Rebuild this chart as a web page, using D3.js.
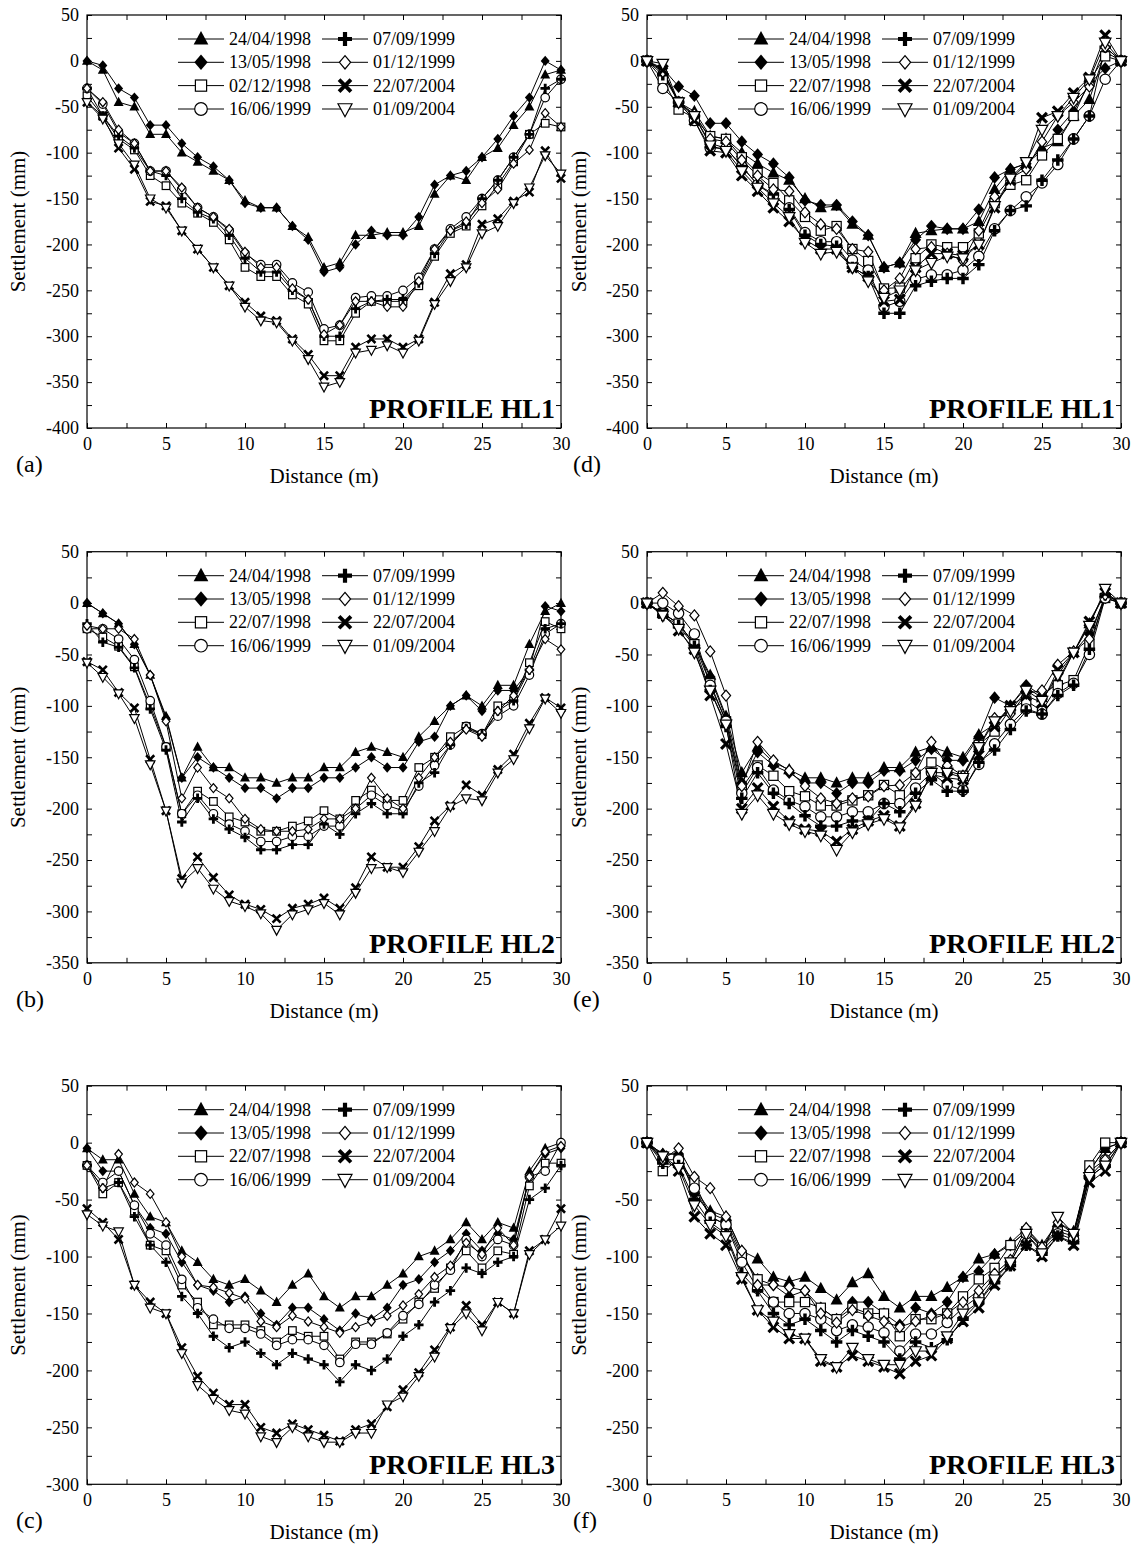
<!DOCTYPE html>
<html><head><meta charset="utf-8">
<script src="https://cdn.jsdelivr.net/npm/d3@7"></script>
<style>body{margin:0;background:#fff}svg text{font-family:"Liberation Serif","Times New Roman",serif;fill:#000}</style>
</head><body><svg id="c" width="1142" height="1559"></svg>
<script>
const distance=[0,1,2,3,4,5,6,7,8,9,10,11,12,13,14,15,16,17,18,19,20,21,22,23,24,25,26,27,28,29,30];
const xTickLabels=[0,5,10,15,20,25,30];
const xTickAll=[0,2.5,5,7.5,10,12.5,15,17.5,20,22.5,25,27.5,30];
const legendA=["24/04/1998","13/05/1998","02/12/1998","16/06/1999","07/09/1999","01/12/1999","22/07/2004","01/09/2004"];
const legendOther=["24/04/1998","13/05/1998","22/07/1998","16/06/1999","07/09/1999","01/12/1999","22/07/2004","01/09/2004"];
const markerTypes=["triUp","diamond","square","circle","plus","diamondOpen","cross","triDown"];
const yTicksHL1=[50,0,-50,-100,-150,-200,-250,-300,-350,-400];
const yTicksHL2=[50,0,-50,-100,-150,-200,-250,-300,-350];
const yTicksHL3=[50,0,-50,-100,-150,-200,-250,-300];

// Profile HL1 (a)
const profileA=[
[0,-10,-45,-50,-80,-80,-100,-110,-120,-130,-152,-160,-160,-180,-192,-225,-220,-190,-190,-187,-187,-180,-145,-125,-130,-105,-95,-70,-50,-15,-10],
[0,-5,-30,-40,-70,-70,-90,-105,-115,-130,-155,-160,-160,-180,-195,-230,-225,-200,-185,-190,-190,-170,-135,-125,-120,-105,-85,-60,-40,0,-10],
[-38,-60,-85,-97,-125,-136,-155,-166,-176,-195,-225,-235,-235,-255,-265,-305,-305,-275,-262,-262,-262,-245,-213,-188,-180,-158,-135,-110,-80,-68,-72],
[-30,-47,-78,-90,-120,-120,-140,-160,-170,-185,-210,-222,-222,-242,-252,-292,-288,-258,-256,-256,-250,-236,-205,-183,-170,-150,-130,-105,-80,-40,-20],
[-30,-60,-82,-95,-120,-125,-150,-165,-172,-190,-215,-230,-230,-250,-260,-300,-300,-270,-262,-260,-260,-242,-210,-185,-178,-150,-130,-105,-80,-30,-20],
[-30,-45,-75,-90,-120,-120,-138,-160,-170,-183,-208,-225,-225,-248,-260,-298,-288,-262,-262,-268,-268,-240,-205,-185,-175,-155,-140,-112,-97,-57,-72],
[-45,-60,-95,-118,-153,-158,-185,-205,-225,-245,-263,-278,-283,-303,-320,-343,-343,-312,-303,-303,-312,-303,-263,-232,-222,-178,-172,-153,-143,-98,-128],
[-45,-63,-90,-113,-150,-160,-185,-205,-225,-245,-268,-283,-285,-305,-325,-355,-350,-318,-315,-310,-318,-305,-265,-240,-225,-188,-180,-155,-138,-103,-123]
];
// Profile HL1 (d)
const profileD=[
[0,-10,-45,-55,-82,-85,-100,-112,-122,-130,-150,-160,-158,-178,-190,-225,-220,-188,-185,-183,-183,-175,-140,-118,-112,-95,-88,-60,-42,10,0],
[0,-8,-28,-38,-68,-68,-88,-102,-112,-127,-152,-157,-157,-175,-190,-225,-220,-195,-180,-183,-183,-162,-127,-118,-112,-98,-75,-55,-25,-8,0],
[0,-20,-53,-62,-82,-85,-105,-122,-133,-152,-170,-185,-180,-205,-218,-248,-247,-215,-200,-203,-203,-188,-155,-135,-130,-103,-85,-60,-22,5,0],
[0,-30,-45,-65,-95,-95,-115,-135,-147,-160,-187,-197,-197,-217,-228,-268,-262,-238,-233,-233,-228,-213,-183,-163,-148,-133,-113,-85,-60,-20,0],
[0,-15,-45,-60,-90,-95,-115,-135,-145,-162,-190,-200,-202,-225,-235,-275,-275,-245,-240,-237,-237,-222,-185,-163,-158,-130,-108,-85,-60,15,0],
[0,-12,-45,-58,-85,-88,-108,-125,-140,-142,-165,-178,-183,-205,-208,-250,-237,-205,-203,-210,-218,-185,-148,-128,-118,-88,-60,-45,-28,15,0],
[0,-10,-45,-65,-98,-100,-125,-142,-160,-175,-195,-205,-205,-225,-235,-262,-260,-225,-210,-210,-212,-200,-160,-130,-112,-62,-55,-35,-18,28,0],
[0,-3,-45,-60,-92,-98,-120,-138,-155,-170,-198,-210,-208,-225,-240,-258,-250,-228,-220,-213,-215,-200,-158,-128,-110,-75,-60,-40,-20,20,0]
];
// Profile HL2 (b)
const profileB=[
[0,-10,-20,-40,-70,-110,-170,-140,-160,-160,-170,-170,-175,-170,-170,-160,-160,-145,-140,-145,-150,-130,-115,-100,-90,-100,-80,-80,-40,-8,0],
[0,-10,-20,-40,-70,-112,-170,-150,-160,-170,-180,-180,-190,-180,-180,-170,-170,-160,-150,-160,-160,-135,-130,-100,-90,-105,-85,-85,-65,-3,-8],
[-25,-33,-42,-62,-100,-140,-205,-183,-193,-208,-213,-222,-222,-217,-212,-202,-210,-192,-182,-192,-192,-160,-150,-130,-120,-128,-100,-95,-58,-18,-25],
[-25,-25,-35,-55,-95,-140,-205,-187,-205,-215,-222,-232,-232,-227,-227,-217,-217,-200,-187,-197,-202,-178,-158,-138,-120,-127,-110,-100,-70,-30,-20],
[-20,-38,-43,-63,-103,-143,-213,-190,-210,-220,-228,-240,-240,-235,-235,-215,-225,-205,-195,-205,-205,-175,-165,-138,-122,-128,-105,-95,-65,-25,-20],
[-22,-25,-25,-35,-70,-115,-190,-160,-180,-190,-210,-220,-222,-222,-220,-210,-210,-200,-170,-190,-200,-170,-150,-135,-123,-130,-105,-90,-65,-35,-45],
[-57,-65,-87,-102,-152,-202,-268,-247,-267,-284,-293,-298,-307,-297,-293,-287,-297,-277,-247,-257,-257,-237,-212,-197,-177,-187,-162,-147,-117,-92,-102],
[-58,-72,-88,-112,-157,-202,-272,-258,-278,-290,-295,-302,-318,-303,-298,-292,-303,-282,-258,-257,-262,-242,-222,-198,-190,-192,-165,-152,-122,-93,-107]
];
// Profile HL2 (e)
const profileE=[
[0,-10,-20,-40,-70,-110,-165,-140,-155,-162,-170,-170,-175,-170,-170,-160,-160,-145,-140,-145,-150,-128,-118,-100,-82,-92,-75,-48,-20,10,0],
[0,-10,-20,-40,-72,-112,-175,-145,-158,-165,-175,-175,-185,-175,-175,-163,-163,-153,-142,-153,-153,-130,-92,-100,-80,-90,-78,-48,-30,5,0],
[0,-10,-20,-40,-78,-115,-180,-158,-168,-183,-188,-197,-197,-192,-187,-177,-187,-167,-155,-163,-168,-138,-125,-103,-95,-105,-80,-75,-40,5,0],
[0,0,-10,-30,-80,-115,-185,-160,-182,-192,-198,-208,-208,-203,-203,-195,-195,-180,-165,-177,-182,-157,-137,-118,-103,-108,-88,-78,-50,5,0],
[0,-12,-22,-42,-85,-120,-190,-165,-185,-195,-207,-217,-217,-212,-212,-195,-203,-185,-172,-183,-183,-155,-143,-123,-105,-108,-90,-80,-45,8,0],
[0,10,-3,-12,-47,-90,-178,-135,-153,-163,-178,-190,-195,-190,-188,-178,-177,-165,-135,-158,-168,-140,-112,-108,-88,-85,-60,-47,-35,8,0],
[0,-10,-27,-45,-90,-137,-200,-180,-198,-212,-220,-222,-232,-220,-212,-207,-217,-195,-167,-170,-172,-148,-120,-100,-90,-97,-65,-48,-18,10,0],
[0,-12,-25,-48,-85,-118,-205,-187,-205,-215,-222,-226,-240,-223,-215,-210,-218,-197,-165,-165,-170,-140,-115,-105,-85,-95,-70,-48,-22,14,0]
];
// Profile HL3 (c)
const profileC=[
[-5,-15,-15,-45,-65,-70,-95,-105,-120,-125,-120,-130,-140,-125,-115,-135,-145,-135,-135,-125,-115,-100,-95,-85,-70,-85,-70,-75,-25,-5,0],
[-5,-25,-25,-55,-75,-80,-105,-125,-130,-140,-135,-150,-160,-145,-145,-155,-165,-150,-155,-145,-125,-120,-105,-95,-80,-95,-80,-85,-30,-10,-5],
[-20,-45,-35,-60,-90,-95,-125,-140,-160,-160,-160,-165,-175,-165,-170,-170,-190,-175,-175,-168,-155,-140,-128,-110,-95,-110,-95,-98,-38,-18,-18],
[-20,-35,-25,-55,-80,-90,-120,-145,-155,-163,-163,-168,-178,-173,-173,-178,-193,-177,-177,-167,-152,-142,-125,-112,-85,-100,-85,-90,-30,-25,0],
[-20,-40,-35,-65,-90,-105,-135,-150,-170,-180,-175,-185,-195,-185,-190,-195,-210,-195,-200,-190,-170,-160,-140,-130,-110,-115,-105,-100,-50,-40,-20],
[-20,-40,-10,-35,-45,-70,-100,-125,-127,-132,-137,-157,-162,-152,-157,-162,-167,-162,-157,-152,-143,-133,-118,-108,-88,-98,-75,-90,-30,-8,-3],
[-58,-70,-85,-125,-140,-150,-180,-205,-220,-230,-230,-250,-255,-247,-252,-257,-262,-252,-247,-232,-217,-202,-182,-162,-143,-160,-140,-150,-95,-85,-58],
[-63,-73,-78,-125,-145,-150,-185,-213,-225,-235,-238,-258,-263,-250,-258,-263,-263,-255,-255,-230,-223,-205,-188,-163,-150,-165,-140,-150,-98,-85,-73]
];
// Profile HL3 (f)
const profileF=[
[0,-10,-10,-40,-60,-65,-95,-102,-118,-122,-118,-128,-138,-123,-115,-135,-145,-135,-135,-127,-118,-102,-98,-88,-75,-90,-70,-78,-25,-5,0],
[0,-10,-10,-45,-62,-68,-98,-120,-125,-135,-130,-145,-155,-140,-140,-150,-160,-145,-150,-140,-118,-113,-98,-90,-78,-92,-75,-80,-25,-5,0],
[0,-25,-15,-35,-65,-72,-100,-120,-140,-140,-140,-145,-155,-145,-150,-150,-170,-155,-155,-150,-135,-120,-110,-90,-78,-92,-78,-82,-20,0,0],
[0,-15,-15,-40,-65,-72,-105,-128,-140,-150,-150,-155,-165,-160,-162,-167,-183,-168,-168,-158,-145,-135,-118,-105,-80,-95,-80,-85,-30,-15,0],
[0,-18,-20,-50,-70,-80,-115,-130,-150,-160,-155,-165,-175,-165,-170,-175,-190,-175,-180,-173,-155,-140,-123,-108,-90,-98,-82,-88,-30,-20,0],
[0,-15,-5,-30,-40,-65,-95,-125,-125,-127,-130,-150,-158,-147,-152,-157,-162,-157,-152,-150,-140,-130,-115,-103,-75,-92,-70,-80,-25,-15,0],
[0,-12,-25,-65,-80,-90,-120,-147,-162,-172,-172,-192,-197,-187,-192,-197,-203,-192,-187,-172,-157,-145,-125,-108,-90,-100,-82,-90,-35,-25,0],
[0,-12,-22,-55,-72,-82,-118,-147,-157,-168,-172,-190,-197,-180,-190,-195,-195,-183,-183,-170,-150,-140,-120,-105,-80,-97,-65,-80,-30,-20,0]
];

const panels=[
 {data:profileA,names:legendA,title:"PROFILE HL1",letter:"(a)",yTicks:yTicksHL1,left:87,right:561,top:15,bottom:428,ms:9.5,yl:18,lx:16},
 {data:profileD,names:legendOther,title:"PROFILE HL1",letter:"(d)",yTicks:yTicksHL1,left:647,right:1121,top:15,bottom:428,ms:11.5,yl:579,lx:573},
 {data:profileB,names:legendOther,title:"PROFILE HL2",letter:"(b)",yTicks:yTicksHL2,left:87,right:561,top:551.7,bottom:962.8,ms:9.5,yl:18,lx:16},
 {data:profileE,names:legendOther,title:"PROFILE HL2",letter:"(e)",yTicks:yTicksHL2,left:647,right:1121,top:551.7,bottom:962.8,ms:11.5,yl:579,lx:573},
 {data:profileC,names:legendOther,title:"PROFILE HL3",letter:"(c)",yTicks:yTicksHL3,left:87,right:561,top:1085.7,bottom:1484.3,ms:9.5,yl:18,lx:16},
 {data:profileF,names:legendOther,title:"PROFILE HL3",letter:"(f)",yTicks:yTicksHL3,left:647,right:1121,top:1085.7,bottom:1484.3,ms:11.5,yl:579,lx:573}
];

const svg=d3.select("#c");

function drawMarker(g,type,x,y,s){
  const h=s/2;
  if(type==="triUp"){
    g.append("path").attr("d",`M${x},${y-h*1.15}L${x+h*1.05},${y+h*0.8}L${x-h*1.05},${y+h*0.8}Z`).attr("fill","#000");
  }else if(type==="triDown"){
    g.append("path").attr("d",`M${x},${y+h*1.1}L${x+h*1.0},${y-h*0.75}L${x-h*1.0},${y-h*0.75}Z`).attr("fill","#fff").attr("stroke","#000").attr("stroke-width",1.2);
  }else if(type==="diamond"){
    g.append("path").attr("d",`M${x},${y-h*1.1}L${x+h*0.95},${y}L${x},${y+h*1.1}L${x-h*0.95},${y}Z`).attr("fill","#000");
  }else if(type==="diamondOpen"){
    g.append("path").attr("d",`M${x},${y-h*0.95}L${x+h*0.8},${y}L${x},${y+h*0.95}L${x-h*0.8},${y}Z`).attr("fill","#fff").attr("stroke","#000").attr("stroke-width",1.2);
  }else if(type==="square"){
    g.append("rect").attr("x",x-h*0.8).attr("y",y-h*0.8).attr("width",h*1.6).attr("height",h*1.6).attr("fill","#fff").attr("stroke","#000").attr("stroke-width",1.2);
  }else if(type==="circle"){
    g.append("circle").attr("cx",x).attr("cy",y).attr("r",h*0.9).attr("fill","#fff").attr("stroke","#000").attr("stroke-width",1.2);
  }else if(type==="plus"){
    const a=h*1.0,t=h*0.3;
    g.append("path").attr("d",`M${x-t},${y-a}H${x+t}V${y-t}H${x+a}V${y+t}H${x+t}V${y+a}H${x-t}V${y+t}H${x-a}V${y-t}H${x-t}Z`).attr("fill","#000");
  }else if(type==="cross"){
    const a=h*0.85;
    g.append("path").attr("d",`M${x-a},${y-a}L${x+a},${y+a}M${x+a},${y-a}L${x-a},${y+a}`).attr("stroke","#000").attr("stroke-width",h*0.55).attr("fill","none");
  }
}

panels.forEach(p=>{
  const yMin=d3.min(p.yTicks), yMax=d3.max(p.yTicks);
  const x=d3.scaleLinear().domain([0,30]).range([p.left,p.right]);
  const y=d3.scaleLinear().domain([yMin,yMax]).range([p.bottom,p.top]);
  const g=svg.append("g");
  const yAll=d3.range(yMin,yMax+1,25);
  const ax=(gen,tr)=>{const a=g.append("g").attr("transform",tr).call(gen);a.select(".domain").remove();a.selectAll("line").attr("stroke","#000");return a;};
  const left=ax(d3.axisLeft(y).tickValues(yAll).tickSize(-5).tickPadding(8).tickFormat(d=>p.yTicks.includes(d)?String(d):""),`translate(${p.left},0)`);
  left.selectAll("text").attr("font-size",18).attr("font-family","Liberation Serif").attr("fill","#000");
  ax(d3.axisRight(y).tickValues(yAll).tickSize(-5).tickFormat(""),`translate(${p.right},0)`);
  const bot=ax(d3.axisBottom(x).tickValues(xTickAll).tickSize(-5).tickPadding(9).tickFormat(d=>xTickLabels.includes(d)?String(d):""),`translate(0,${p.bottom})`);
  bot.selectAll("text").attr("font-size",18).attr("font-family","Liberation Serif").attr("fill","#000");
  ax(d3.axisTop(x).tickValues(xTickAll).tickSize(-5).tickFormat(""),`translate(0,${p.top})`);
  g.append("rect").attr("x",p.left).attr("y",p.top).attr("width",p.right-p.left).attr("height",p.bottom-p.top).attr("fill","none").attr("stroke","#000").attr("stroke-width",1.2);
  const line=d3.line().x((d,i)=>x(distance[i])).y(d=>y(d));
  p.data.forEach((s,k)=>{
    g.append("path").attr("d",line(s)).attr("fill","none").attr("stroke","#000").attr("stroke-width",1);
  });
  p.data.forEach((s,k)=>{
    const mg=g.append("g");
    s.forEach((v,i)=>drawMarker(mg,markerTypes[k],x(distance[i]),y(v),p.ms));
  });
  const lx=[p.left+91,p.left+235], rowY=[24,47.3,70.6,94];
  p.names.forEach((n,k)=>{
    const c=Math.floor(k/4), r=k%4;
    const x0=lx[c], yy=p.top+rowY[r];
    g.append("line").attr("x1",x0).attr("x2",x0+46).attr("y1",yy).attr("y2",yy).attr("stroke","#000").attr("stroke-width",1);
    drawMarker(g,markerTypes[k],x0+23,yy,14);
    g.append("text").attr("x",x0+51).attr("y",yy+6).attr("font-size",18).text(n);
  });
  g.append("text").attr("x",p.right-6).attr("y",p.bottom-10).attr("text-anchor","end").attr("font-size",28).attr("font-weight","bold").text(p.title);
  g.append("text").attr("x",(p.left+p.right)/2).attr("y",p.bottom+55).attr("text-anchor","middle").attr("font-size",21).text("Distance (m)");
  g.append("text").attr("transform",`translate(${p.yl+7},${(p.top+p.bottom)/2}) rotate(-90)`).attr("text-anchor","middle").attr("font-size",21).text("Settlement (mm)");
  g.append("text").attr("x",p.lx).attr("y",p.bottom+44).attr("font-size",24).text(p.letter);
});
</script></body></html>
